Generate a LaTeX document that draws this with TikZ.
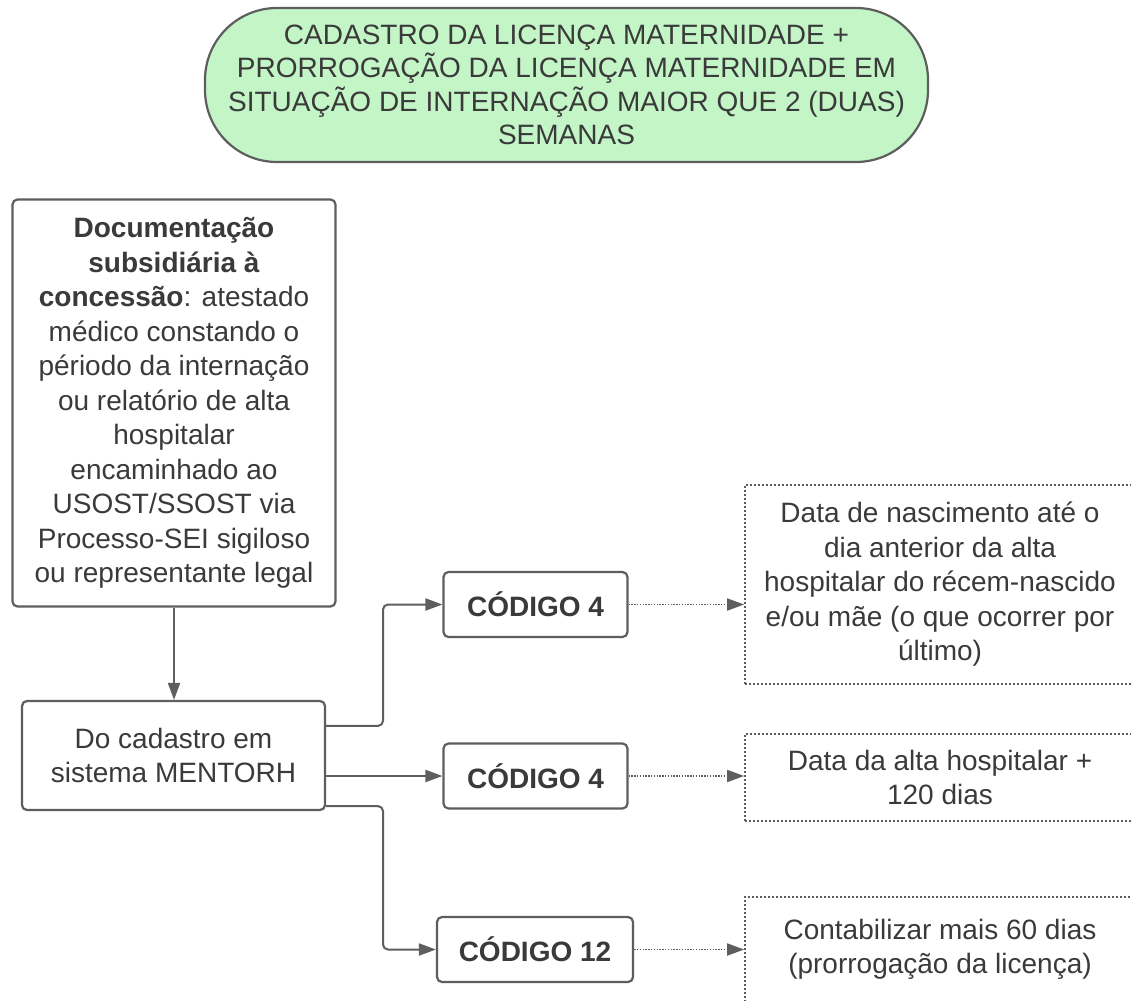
\documentclass[tikz,border=0pt]{standalone}
\usepackage{fontspec}
\setmainfont{Liberation Sans}
\usetikzlibrary{arrows.meta,calc}
\definecolor{ln}{HTML}{5E5E5E}
\definecolor{tx}{HTML}{3A3A3A}
\definecolor{grn}{HTML}{C3F5C6}
\begin{document}
\begin{tikzpicture}[x=1pt,y=-1pt,
  box/.style={draw=ln,line width=2.2pt,rounded corners=5pt,text=tx,align=center,inner sep=0pt},
  dbox/.style={draw=ln,line width=1.8pt,dash pattern=on 1.6pt off 2.4pt,text=tx,align=center,inner sep=0pt},
  conn/.style={draw=ln,line width=2pt,-{Triangle[length=17pt,width=12pt]},rounded corners=5pt},
  dconn/.style={draw=ln,line width=1.8pt,dash pattern=on 1.4pt off 1.4pt,-{Triangle[length=17pt,width=12pt]}},
  font=\fontsize{28}{34.5}\selectfont]
\useasboundingbox (0,0) rectangle (1131,1000);
\clip (0,0) rectangle (1131,1000);
\fill[white] (0,0) rectangle (1131,1000);

\node[box, fill=grn, rounded corners=72pt, minimum width=723pt, minimum height=154pt,
  font=\fontsize{28}{33.5}\selectfont] (t) at (566.5,85)
  {CADASTRO DA LICENÇA MATERNIDADE +\\PRORROGAÇÃO DA LICENÇA MATERNIDADE EM\\SITUAÇÃO DE INTERNAÇÃO MAIOR QUE 2 (DUAS)\\SEMANAS};

\node[box, minimum width=323pt, minimum height=407pt] (doc) at (174,403)
  {\textbf{Documentação}\\\textbf{subsidiária à}\\\textbf{concessão}: atestado\\médico constando o\\périodo da internação\\ou relatório de alta\\hospitalar\\encaminhado ao\\USOST/SSOST via\\Processo-SEI sigiloso\\ou representante legal};

\node[box, minimum width=303pt, minimum height=109pt] (m) at (173.5,755.5)
  {Do cadastro em\\sistema MENTORH};

\node[box, minimum width=184pt, minimum height=65pt, font=\bfseries\fontsize{28}{34}\selectfont] (c1) at (535.5,604.5) {CÓDIGO 4};
\node[box, minimum width=184pt, minimum height=65pt, font=\bfseries\fontsize{28}{34}\selectfont] (c2) at (535.5,776) {CÓDIGO 4};
\node[box, minimum width=196pt, minimum height=65pt, font=\bfseries\fontsize{28}{34}\selectfont] (c3) at (535,949.5) {CÓDIGO 12};

\node[dbox, minimum width=390pt, minimum height=199pt] (d1) at (940,584.5)
  {Data de nascimento até o\\dia anterior da alta\\hospitalar do récem-nascido\\e/ou mãe (o que ocorrer por\\último)};
\node[dbox, minimum width=390pt, minimum height=87pt] (d2) at (940,777.5)
  {Data da alta hospitalar +\\120 dias};
\node[dbox, minimum width=390pt, minimum height=105pt] (d3) at (940,949.5)
  {Contabilizar mais 60 dias\\(prorrogação da licença)};

\coordinate (bx) at (383,0);
\draw[conn] (doc.south) -- (doc.south |- m.north);
\draw[conn] ([yshift=-26pt]m.north east) -| (bx |- c1.west) -- (c1.west);
\draw[conn] (m.east |- c2.west) -- (c2.west);
\draw[conn] ([yshift=5pt]m.south east) -| (bx |- c3.west) -- (c3.west);

\draw[dconn] (c1.east) -- (c1.east -| d1.west);
\draw[dconn] (c2.east) -- (c2.east -| d2.west);
\draw[dconn] (c3.east) -- (c3.east -| d3.west);
\end{tikzpicture}
\end{document}
